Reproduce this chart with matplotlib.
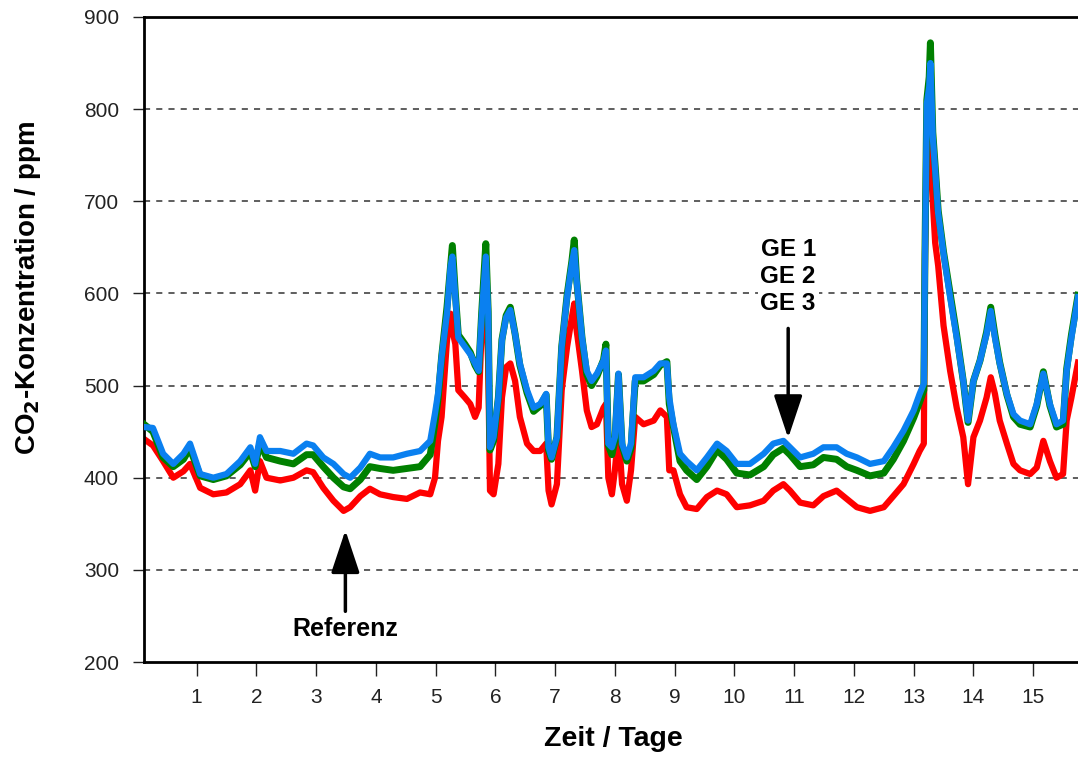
# CO2-Konzentration über 16 Tage: Referenz und drei Messstellen (GE 1-3)
import numpy as np
import matplotlib
matplotlib.use('Agg')
import matplotlib.pyplot as plt

plt.rcParams['font.family'] = ['Liberation Sans', 'DejaVu Sans']

# Zeit in Tagen
tage = [0.12, 0.27, 0.44, 0.61, 0.78, 0.89, 1.06, 1.28, 1.5, 1.73, 1.9, 1.98, 2.06, 2.17, 2.4,
        2.62, 2.84, 2.95, 3.12, 3.29, 3.46, 3.57, 3.74, 3.9, 4.07, 4.29, 4.52, 4.74, 4.91, 4.99,
        5.04, 5.1, 5.19, 5.25, 5.28, 5.33, 5.38, 5.49, 5.58, 5.66, 5.72, 5.77, 5.84, 5.88, 5.91,
        5.97, 6.05, 6.11, 6.18, 6.25, 6.33, 6.41, 6.53, 6.64, 6.75, 6.85, 6.89, 6.94, 7.03, 7.11,
        7.2, 7.28, 7.32, 7.36, 7.45, 7.53, 7.61, 7.7, 7.81, 7.85, 7.89, 7.95, 8.0, 8.06, 8.12,
        8.2, 8.27, 8.34, 8.48, 8.65, 8.76, 8.87, 8.91, 8.98, 9.09, 9.2, 9.37, 9.54, 9.71, 9.87,
        10.04, 10.26, 10.49, 10.65, 10.82, 10.93, 11.1, 11.32, 11.49, 11.71, 11.88, 12.05, 12.27, 12.5, 12.66,
        12.83, 13.0, 13.1, 13.17, 13.19, 13.22, 13.26, 13.28, 13.32, 13.36, 13.41, 13.5, 13.61, 13.72, 13.83,
        13.91, 14.0, 14.11, 14.22, 14.29, 14.36, 14.44, 14.56, 14.67, 14.78, 14.95, 15.06, 15.17, 15.28, 15.39,
        15.5, 15.56, 15.64, 15.75]

# Referenz (rot)
referenz = [442, 435, 418, 400, 407, 415, 389, 382, 384, 393, 408, 386, 418, 400, 397,
            400, 408, 406, 389, 375, 364, 368, 380, 388, 382, 379, 377, 384, 382, 400,
            440, 466, 549, 578, 560, 545, 495, 487, 480, 466, 476, 560, 592, 524, 386,
            382, 415, 487, 520, 524, 505, 466, 437, 429, 429, 437, 386, 371, 393, 495,
            542, 574, 589, 560, 516, 473, 455, 458, 476, 480, 400, 382, 408, 451, 393,
            375, 408, 466, 458, 462, 473, 466, 408, 408, 382, 368, 366, 379, 386, 382,
            368, 370, 375, 386, 393, 386, 373, 370, 380, 386, 377, 368, 364, 368, 380,
            393, 415, 429, 437, 643, 759, 777, 770, 700, 655, 630, 565, 516, 476, 444,
            393, 444, 462, 487, 509, 491, 462, 437, 415, 408, 404, 411, 440, 418, 400,
            404, 462, 487, 525]

# GE (grün)
ge_gruen = [458, 450, 422, 412, 420, 432, 402, 398, 402, 414, 428, 412, 438, 422, 418,
            415, 425, 425, 412, 400, 390, 388, 398, 412, 410, 408, 410, 412, 425, 460,
            485, 531, 585, 630, 652, 600, 555, 545, 536, 522, 515, 578, 654, 580, 430,
            440, 487, 550, 576, 585, 556, 522, 492, 472, 478, 490, 430, 420, 444, 542,
            598, 635, 658, 615, 552, 512, 500, 510, 528, 545, 435, 425, 440, 512, 435,
            418, 432, 505, 505, 512, 522, 526, 480, 455, 418, 408, 398, 412, 430, 420,
            405, 403, 412, 425, 432, 425, 412, 414, 422, 420, 412, 408, 402, 405, 420,
            440, 465, 482, 495, 650, 810, 835, 872, 775, 738, 690, 645, 600, 555, 505,
            460, 505, 527, 558, 585, 555, 525, 490, 466, 458, 455, 478, 515, 478, 455,
            458, 518, 555, 598]

# GE (blau)
ge_blau = [455, 454, 426, 415, 426, 437, 404, 400, 404, 418, 433, 415, 444, 429, 429,
           426, 437, 435, 422, 415, 404, 400, 411, 426, 422, 422, 426, 429, 440, 470,
           491, 531, 578, 629, 640, 596, 552, 542, 534, 524, 516, 574, 640, 578, 433,
           444, 487, 549, 574, 582, 556, 524, 495, 476, 480, 491, 433, 422, 444, 542,
           596, 632, 647, 614, 552, 516, 505, 513, 527, 538, 437, 433, 444, 513, 437,
           422, 437, 509, 509, 516, 524, 524, 487, 458, 426, 418, 408, 422, 437, 429,
           415, 415, 426, 437, 440, 433, 422, 426, 433, 433, 426, 422, 415, 418, 433,
           451, 473, 491, 502, 643, 806, 824, 850, 770, 734, 687, 643, 596, 552, 505,
           462, 505, 527, 556, 581, 552, 524, 491, 469, 462, 458, 480, 513, 480, 458,
           462, 516, 552, 596]

y_ticks = [200, 300, 400, 500, 600, 700, 800, 900]
x_ticks = list(range(1, 16))

fig = plt.figure(figsize=(10.78, 7.6), dpi=100)
ax = fig.add_axes([144 / 1078, 98 / 760, 1 - 144 / 1078, 645 / 760])

# Raster
for y in y_ticks[1:-1]:
    ax.axhline(y, color='#333333', lw=1.1, ls=(0, (4, 4)), zorder=1)

ax.plot(tage, referenz, color='#ff0000', lw=4.5, zorder=2)
ax.plot(tage, ge_gruen, color='#008000', lw=5, zorder=3)
ax.plot(tage, ge_blau, color='#0a80f0', lw=4.5, zorder=4)

ax.set_xlim(0.12, 15.75)
ax.set_ylim(200, 900)
ax.set_xticks(x_ticks)
ax.set_yticks(y_ticks)
ax.tick_params(axis='x', length=10, width=1, pad=9, labelsize=15, colors='#222222')
ax.tick_params(axis='y', length=8, width=1, pad=10, labelsize=15, colors='#222222')
ax.spines['right'].set_visible(False)
for s in ['left', 'bottom', 'top']:
    ax.spines[s].set_linewidth(2)

ax.set_xlabel('Zeit / Tage', fontsize=20.5, fontweight='bold')
ax.xaxis.set_label_coords(0.503, -0.1)
ax.set_ylabel('CO$_\\mathbf{2}$-Konzentration / ppm', fontsize=20, fontweight='bold')
ax.yaxis.set_label_coords(-0.108, 0.58)

# Beschriftungen mit Pfeilen
pfeil = dict(arrowstyle='-|>,head_width=0.4,head_length=1.2', color='black', lw=2.5,
             mutation_scale=22, shrinkA=0, shrinkB=0)
ax.annotate('', xy=(3.49, 343), xytext=(3.49, 255), arrowprops=pfeil, zorder=6)
ax.text(3.49, 236, 'Referenz', ha='center', va='center', fontsize=18, fontweight='bold', zorder=6)

ax.annotate('', xy=(10.9, 443), xytext=(10.9, 562), arrowprops=pfeil, zorder=6)
ax.text(10.9, 618, 'GE 1\nGE 2\nGE 3', ha='center', va='center', fontsize=17.5, fontweight='bold',
        linespacing=1.22, zorder=6,
        bbox=dict(facecolor='white', edgecolor='none', pad=2))

fig.savefig('out.png', dpi=100)
